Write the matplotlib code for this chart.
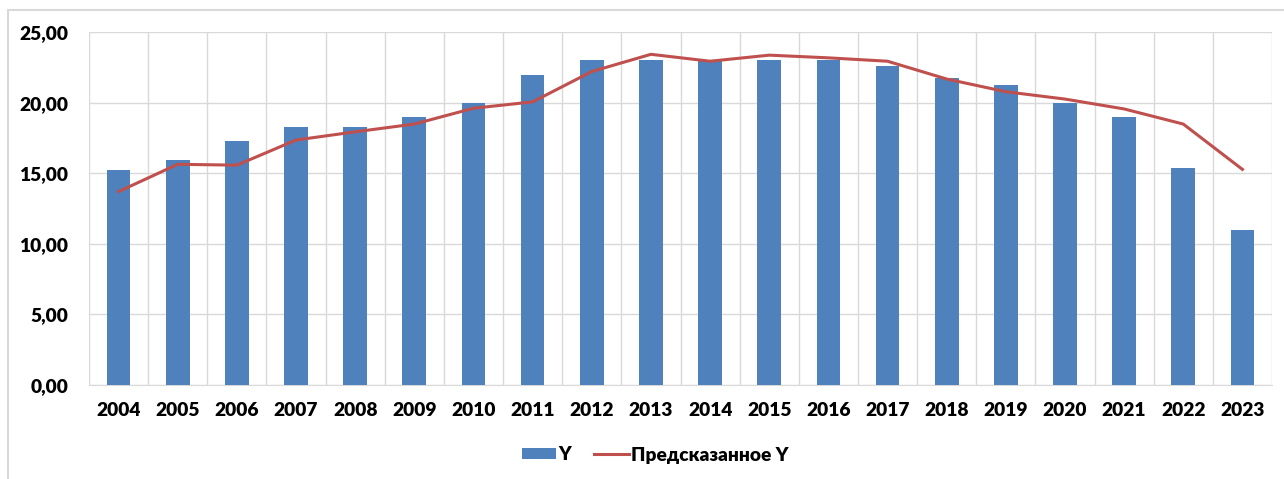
import matplotlib
matplotlib.use("Agg")
import matplotlib.pyplot as plt
from matplotlib.patches import Rectangle
from matplotlib.ticker import FuncFormatter, MultipleLocator
import numpy as np

years = [str(y) for y in range(2004, 2024)]
y_actual = [15.25, 15.95, 17.25, 18.28, 18.28, 18.98, 19.97, 21.95, 23.0, 23.0,
            22.98, 23.0, 23.0, 22.6, 21.77, 21.25, 19.97, 18.98, 15.37, 10.98]
y_pred = [13.7, 15.63, 15.57, 17.35, 17.93, 18.48, 19.6, 20.05, 22.2, 23.42,
          22.93, 23.36, 23.17, 22.93, 21.67, 20.77, 20.25, 19.55, 18.48, 15.27]

plt.rcParams['font.family'] = ['Lato', 'DejaVu Sans']

fig = plt.figure(figsize=(12.84, 4.79), dpi=100)
W, H = 1284, 479
# outer chart border
fig.patches.append(Rectangle((8 / W, -0.1), 1.2, 1 - 10 / H + 0.1, transform=fig.transFigure,
                             fill=False, edgecolor='#d9d9d9', linewidth=1.5))

ax = fig.add_axes([89 / W, 1 - 385 / H, (1272 - 89) / W, (385 - 32) / H])
x = np.arange(len(years))
bars = ax.bar(x, y_actual, width=0.4, color='#4F81BD', label='Y', zorder=3)
line, = ax.plot(x, y_pred, color='#C0504D', linewidth=2.2, label='Предсказанное Y', zorder=4)

ax.set_xlim(-0.5, len(years) - 0.5)
ax.set_ylim(0, 25)
ax.yaxis.set_major_locator(MultipleLocator(5))
ax.yaxis.set_major_formatter(FuncFormatter(lambda v, p: f"{v:.2f}".replace('.', ',')))
ax.set_xticks(x)
ax.set_xticklabels(years)
ax.set_xticks(np.arange(-0.5, len(years)), minor=True)
ax.grid(axis='y', which='major', color='#d9d9d9', linewidth=1, zorder=0)
ax.grid(axis='x', which='minor', color='#d9d9d9', linewidth=1, zorder=0)
ax.grid(axis='x', which='major', visible=False)
for s in ['top', 'right', 'left']:
    ax.spines[s].set_visible(False)
ax.spines['bottom'].set_color('#d9d9d9')
ax.tick_params(axis='both', which='both', length=0, labelsize=13.8, labelcolor='#000000')
ax.tick_params(axis='y', pad=15)
ax.tick_params(axis='x', pad=12)
for lbl in ax.get_xticklabels() + ax.get_yticklabels():
    lbl.set_fontweight('heavy')

leg = fig.legend(handles=[bars, line], labels=['Y', 'Предсказанное Y'], loc='center',
                 bbox_to_anchor=(655 / W, 1 - 455 / H), ncol=2, frameon=False,
                 prop={'weight': 'heavy', 'size': 13.8}, handlelength=1.8, handletextpad=0.1,
                 columnspacing=1.2, handleheight=0.55)

fig.savefig('out.png', dpi=100, facecolor='white')
